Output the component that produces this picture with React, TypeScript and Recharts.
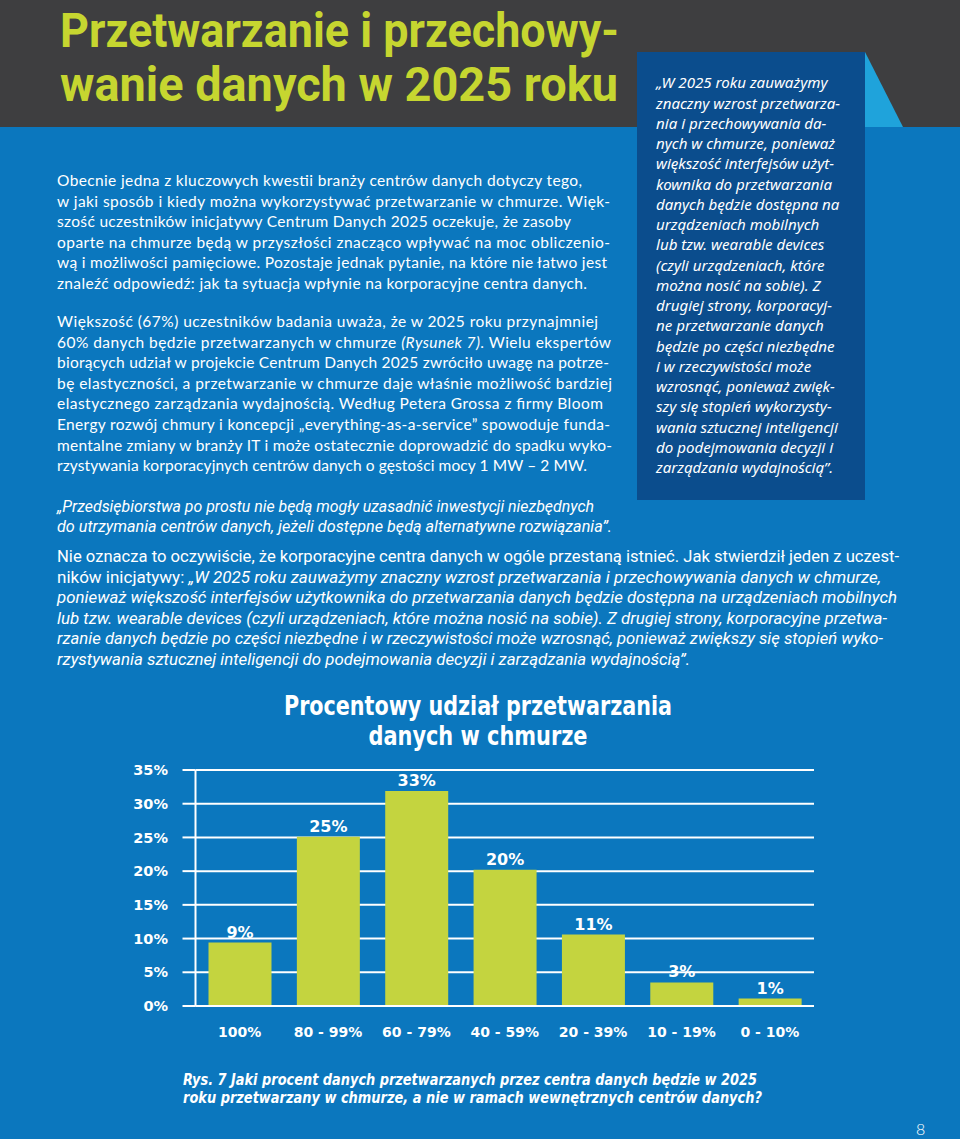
import React from 'react';
import { BarChart, Bar, XAxis, YAxis, CartesianGrid, LabelList } from 'recharts';

// ---- chart data ----
const categories = ['100%', '80 - 99%', '60 - 79%', '40 - 59%', '20 - 39%', '10 - 19%', '0 - 10%'];
const shares = [9.4, 25.1, 31.9, 20.2, 10.6, 3.5, 1.1];
const shareLabels = ['9%', '25%', '33%', '20%', '11%', '3%', '1%'];
const yTicks = [0, 5, 10, 15, 20, 25, 30, 35];
const bandEdges = [0, 1, 2, 3, 4, 5, 6, 7];

const data = categories.map((cat, i) => ({ cat, value: shares[i], label: shareLabels[i] }));

// ---- page text ----
const titleLines = ['Przetwarzanie i przechowy-', 'wanie danych w 2025 roku'];
const para1 = [
  'Obecnie jedna z kluczowych kwestii branży centrów danych dotyczy tego,',
  'w jaki sposób i kiedy można wykorzystywać przetwarzanie w chmurze. Więk-',
  'szość uczestników inicjatywy Centrum Danych 2025 oczekuje, że zasoby',
  'oparte na chmurze będą w przyszłości znacząco wpływać na moc obliczenio-',
  'wą i możliwości pamięciowe. Pozostaje jednak pytanie, na które nie łatwo jest',
  'znaleźć odpowiedź: jak ta sytuacja wpłynie na korporacyjne centra danych.',
];
const para1Ends = [582, 610, 571, 610, 607, 587];
const para2 = [
  'Większość (67%) uczestników badania uważa, że w 2025 roku przynajmniej',
  '60% danych będzie przetwarzanych w chmurze *(Rysunek 7)*. Wielu ekspertów',
  'biorących udział w projekcie Centrum Danych 2025 zwróciło uwagę na potrze-',
  'bę elastyczności, a przetwarzanie w chmurze daje właśnie możliwość bardziej',
  'elastycznego zarządzania wydajnością. Według Petera Grossa z firmy Bloom',
  'Energy rozwój chmury i koncepcji „everything-as-a-service” spowoduje funda-',
  'mentalne zmiany w branży IT i może ostatecznie doprowadzić do spadku wyko-',
  'rzystywania korporacyjnych centrów danych o gęstości mocy 1 MW – 2 MW.',
];
const para2Ends = [598, 611, 609, 612, 603, 610, 612, 587];
const pullQuote = [
  '„Przedsiębiorstwa po prostu nie będą mogły uzasadnić inwestycji niezbędnych',
  'do utrzymania centrów danych, jeżeli dostępne będą alternatywne rozwiązania”.',
];
const pullQuoteEnds = [594, 612];
const para3 = [
  'Nie oznacza to oczywiście, że korporacyjne centra danych w ogóle przestaną istnieć. Jak stwierdził jeden z uczest-',
  'ników inicjatywy: *„W 2025 roku zauważymy znaczny wzrost przetwarzania i przechowywania danych w chmurze,*',
  '*ponieważ większość interfejsów użytkownika do przetwarzania danych będzie dostępna na urządzeniach mobilnych*',
  '*lub tzw. wearable devices (czyli urządzeniach, które można nosić na sobie). Z drugiej strony, korporacyjne przetwa-*',
  '*rzanie danych będzie po części niezbędne i w rzeczywistości może wzrosnąć, ponieważ zwiększy się stopień wyko-*',
  '*rzystywania sztucznej inteligencji do podejmowania decyzji i zarządzania wydajnością”.*',
];
const para3Ends = [899, 881, 897, 887, 883, 690];
const sidebar = [
  '„W 2025 roku zauważymy',
  'znaczny wzrost przetwarza-',
  'nia i przechowywania da-',
  'nych w chmurze, ponieważ',
  'większość interfejsów użyt-',
  'kownika do przetwarzania',
  'danych będzie dostępna na',
  'urządzeniach mobilnych',
  'lub tzw. wearable devices',
  '(czyli urządzeniach, które',
  'można nosić na sobie). Z',
  'drugiej strony, korporacyj-',
  'ne przetwarzanie danych',
  'będzie po części niezbędne',
  'i w rzeczywistości może',
  'wzrosnąć, ponieważ zwięk-',
  'szy się stopień wykorzysty-',
  'wania sztucznej inteligencji',
  'do podejmowania decyzji i',
  'zarządzania wydajnością”.',
];
const chartTitle = ['Procentowy udział przetwarzania', 'danych w chmurze'];
const chartTitleWidths = [388, 219];
const caption = [
  'Rys. 7 Jaki procent danych przetwarzanych przez centra danych będzie w 2025',
  'roku przetwarzany w chmurze, a nie w ramach wewnętrznych centrów danych?',
];
const captionEnds = [757, 762];

const BLUE = '#0b77be';
const GRAY = '#3e3e40';
const NAVY = '#0b4d8d';
const CYAN = '#1fa3db';
const GREEN = '#c6d630';
const BAR = '#c4d43f';

const BODY = "Lato, 'Noto Sans', sans-serif";
const SIDE = "'Noto Sans', 'Open Sans', sans-serif";
const COND = "'Liberation Sans Narrow', 'DejaVu Sans Condensed', 'Liberation Sans', Arial, sans-serif";
const HEAD = "Roboto, 'Liberation Sans', sans-serif";
const NARROWISH = "Roboto, 'Noto Sans', sans-serif";
const CHART = "'DejaVu Sans', Verdana, sans-serif";

function Segs({ text }: { text: string }) {
  const parts = text.split('*');
  return (
    <>
      {parts.map((p, i) =>
        p.length === 0 ? null : (
          <tspan key={i} fontStyle={i % 2 === 1 ? 'italic' : undefined}>
            {p}
          </tspan>
        )
      )}
    </>
  );
}

function Block({
  lines,
  ends,
  x,
  y0,
  step,
  family,
  size,
  weight = 400,
  italic = false,
  adjust = 'spacing',
}: {
  lines: string[];
  ends?: number[];
  x: number;
  y0: number;
  step: number;
  family: string;
  size: number;
  weight?: number;
  italic?: boolean;
  adjust?: string;
}) {
  return (
    <g fill="#ffffff">
      {lines.map((l, i) => (
        <text
          key={i}
          x={x}
          y={y0 + i * step}
          fontFamily={family}
          fontSize={size}
          fontWeight={weight}
          fontStyle={italic ? 'italic' : 'normal'}
          {...(ends ? { textLength: ends[i] - x, lengthAdjust: adjust } : {})}
        >
          <Segs text={l} />
        </text>
      ))}
    </g>
  );
}

export default function App() {
  return (
    <div style={{ position: 'absolute', left: 0, top: 0, width: 960, height: 1139, overflow: 'hidden', background: BLUE }}>
      <svg width={960} height={1139} style={{ position: 'absolute', left: 0, top: 0 }}>
        <rect x={0} y={0} width={960} height={1139} fill={BLUE} />
        <rect x={0} y={0} width={960} height={127} fill={GRAY} />
        <polygon points="865,52 903,127 865,127" fill={CYAN} />
        <rect x={637} y={52} width={228} height={448} fill={NAVY} />

        <g fontFamily={HEAD} fontSize={40} fontWeight={700} fill={GREEN}>
          <text transform="translate(60,47) scale(1,1.2)" x={0} y={0} textLength={559} lengthAdjust="spacingAndGlyphs">
            {titleLines[0]}
          </text>
          <text transform="translate(60,101) scale(1,1.2)" x={0} y={0} textLength={558} lengthAdjust="spacingAndGlyphs">
            {titleLines[1]}
          </text>
        </g>

        <Block lines={para1} ends={para1Ends} x={57} y0={186} step={20.6} family={BODY} size={15.5} />
        <Block lines={para2} ends={para2Ends} x={57} y0={327} step={20.6} family={BODY} size={15.5} />
        <Block lines={sidebar} x={656} y0={88.3} step={20.26} family={SIDE} size={15.1} italic />
        <Block lines={pullQuote} ends={pullQuoteEnds} x={57} y0={512} step={20} family={NARROWISH} size={16} italic adjust="spacingAndGlyphs" />
        <Block lines={para3} ends={para3Ends} x={57} y0={562} step={20.6} family={NARROWISH} size={16} adjust="spacingAndGlyphs" />

        <g fontFamily={COND} fontSize={27} fontWeight={700} fill="#ffffff" textAnchor="middle">
          {chartTitle.map((t, i) => (
            <text key={i} x={478} y={715 + i * 30} textLength={chartTitleWidths[i]} lengthAdjust="spacingAndGlyphs">
              {t}
            </text>
          ))}
        </g>

        <Block lines={caption} ends={captionEnds} x={183} y0={1085} step={18} family={COND} size={16} weight={700} italic adjust="spacingAndGlyphs" />

        <text x={916} y={1135} fontFamily={BODY} fontSize={16} fontWeight={300} fill="#ffffff">8</text>
      </svg>

      <div style={{ position: 'absolute', left: 0, top: 750 }}>
        <BarChart width={960} height={300} data={data} margin={{ top: 20, right: 146, left: 135.5, bottom: 0 }}>
          <CartesianGrid horizontal vertical={false} stroke="#ffffff" strokeWidth={2} strokeOpacity={1} xAxisId="zCat" />
          <XAxis
            xAxisId="zCat"
            dataKey="cat"
            type="category"
            interval={0}
            axisLine={false}
            tickLine={false}
            tickSize={0}
            tickMargin={15}
            height={38}
            tick={{ fill: '#ffffff', fontSize: 14, fontWeight: 700, fontFamily: CHART }}
          />
          <XAxis
            xAxisId="aEdges"
            type="number"
            domain={[0, 7]}
            ticks={bandEdges}
            allowDataOverflow
            tick={false}
            tickSize={6}
            height={6}
            axisLine={{ stroke: '#ffffff', strokeWidth: 2 }}
            tickLine={{ stroke: '#ffffff', strokeWidth: 2 }}
          />
          <YAxis
            type="number"
            domain={[0, 35]}
            ticks={yTicks}
            width={60}
            tickSize={13}
            tickMargin={14.5}
            tickFormatter={(v: number) => `${v}%`}
            axisLine={{ stroke: '#ffffff', strokeWidth: 2 }}
            tickLine={{ stroke: '#ffffff', strokeWidth: 2 }}
            tick={{ fill: '#ffffff', fontSize: 14.5, fontWeight: 700, fontFamily: CHART }}
          />
          <Bar dataKey="value" xAxisId="zCat" fill={BAR} barSize={63} isAnimationActive={false}>
            <LabelList
              dataKey="label"
              position="top"
              offset={5}
              fill="#ffffff"
              fontSize={16}
              fontWeight={700}
              fontFamily={CHART}
            />
          </Bar>
        </BarChart>
      </div>
    </div>
  );
}
